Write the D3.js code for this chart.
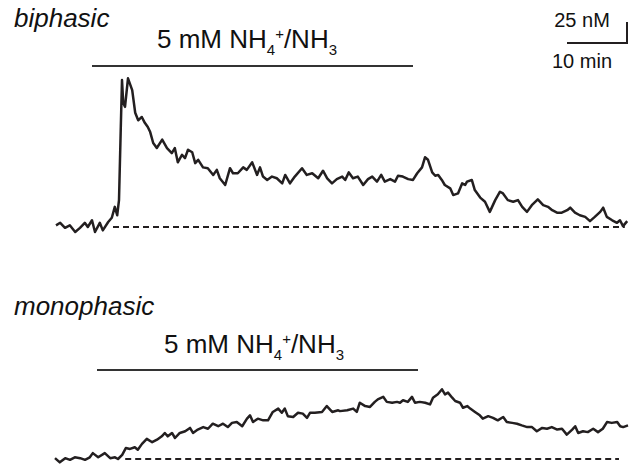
<!DOCTYPE html>
<html>
<head>
<meta charset="utf-8">
<script src="https://cdn.jsdelivr.net/npm/d3@7/dist/d3.min.js"></script>
<style>
  html, body { margin: 0; padding: 0; background: #fff; }
  svg { display: block; }
  text { font-family: "Liberation Sans", Arial, sans-serif; fill: #111; }
</style>
</head>
<body>
<svg id="chart" width="629" height="465"></svg>
<script>
// traces: time (min) and rise in [Ca2+] above baseline (nM)
var biphasicTime = [0, 0.7, 1.5, 2.3, 3.2, 4.0, 4.8, 5.3, 6.0, 6.5, 7.3, 7.8, 8.7, 9.3, 9.8, 10.2, 10.5, 10.8, 11.0, 11.2,
    11.5, 12.0, 12.7, 13.2, 13.7, 14.3, 14.8, 15.3, 15.7, 16.2, 16.8, 17.7, 18.5, 19.3, 19.8, 20.3, 21.0, 21.5, 22.0, 22.7,
    23.2, 23.7, 24.5, 25.3, 26.2, 26.8, 27.3, 28.2, 29.0, 29.5, 30.3, 31.2, 31.8, 32.7, 33.5, 34.0, 34.5, 35.2, 36.0, 36.8,
    37.7, 38.2, 39.0, 39.8, 41.0, 41.8, 42.7, 43.7, 44.5, 45.2, 46.0, 46.8, 47.7, 48.2, 48.8, 49.5, 50.3, 51.2, 52.0, 52.7,
    53.5, 54.2, 54.8, 55.7, 56.5, 57.0, 57.8, 58.7, 59.5, 60.2, 61.0, 61.5, 62.0, 62.7, 63.2, 63.7, 64.3, 64.8, 65.7, 66.2,
    67.0, 67.7, 68.2, 68.5, 69.3, 69.8, 70.7, 71.5, 72.3, 73.2, 74.0, 74.5, 75.3, 76.2, 77.0, 77.7, 78.5, 79.3, 80.3, 81.2,
    82.0, 82.7, 83.5, 84.3, 85.2, 85.7, 86.5, 87.3, 88.2, 89.0, 89.8, 90.7, 91.2, 91.8, 92.7, 93.5, 94.0, 94.5, 95.2];
var biphasicCa = [2, 5, -1, 2, -6, -1, 5, 0, 8, -6, 5, -4, 6, 11, 24, 14, 32, 119, 175, 148,
    143, 177, 163, 136, 127, 131, 124, 119, 113, 100, 94, 104, 94, 88, 94, 77, 86, 82, 92, 89,
    76, 80, 71, 70, 62, 68, 58, 50, 70, 64, 64, 71, 68, 77, 62, 71, 60, 56, 60, 58,
    52, 62, 52, 60, 70, 62, 64, 58, 67, 58, 52, 57, 60, 56, 65, 58, 60, 50, 57, 60,
    54, 62, 54, 57, 54, 61, 60, 57, 56, 64, 71, 83, 80, 65, 61, 62, 56, 50, 46, 38,
    40, 52, 50, 54, 56, 44, 35, 30, 18, 32, 42, 40, 32, 30, 32, 24, 18, 26, 33, 26,
    24, 20, 17, 17, 20, 23, 17, 14, 12, 7, 12, 18, 23, 12, 8, 5, 8, 1, 7];

var monophasicTime = [0, 0.8, 1.7, 2.5, 3.3, 4.2, 5.0, 5.8, 6.3, 7.2, 8.3, 9.2, 10.0, 10.5, 11.2, 11.8, 12.5, 13.3, 13.8, 14.5,
    15.3, 16.2, 17.0, 17.8, 18.3, 18.8, 19.5, 20.0, 20.8, 21.7, 22.5, 23.0, 23.8, 24.7, 25.5, 26.3, 27.2, 28.0, 28.8, 29.5,
    30.3, 31.2, 32.0, 32.5, 33.0, 33.8, 34.7, 35.5, 36.3, 37.2, 37.8, 38.3, 38.8, 39.7, 40.5, 41.3, 42.0, 42.5, 43.3, 44.5,
    45.3, 46.2, 47.2, 47.5, 48.7, 49.7, 50.3, 50.8, 51.7, 52.5, 53.3, 53.8, 54.7, 55.3, 56.2, 57.0, 57.5, 58.0, 58.8, 59.5,
    60.0, 60.8, 61.7, 62.5, 63.0, 63.8, 64.5, 65.0, 65.5, 66.2, 66.7, 67.5, 68.0, 68.7, 69.2, 70.0, 70.8, 71.3, 72.2, 73.0,
    73.8, 74.7, 75.3, 76.2, 77.0, 77.8, 78.7, 79.5, 80.3, 81.2, 82.0, 82.8, 83.7, 84.5, 85.3, 86.2, 86.7, 87.2, 88.0, 88.8,
    89.7, 90.5, 91.3, 92.0, 92.8, 93.7, 94.2, 94.7, 95.5];
var monophasicCa = [1, -4, 1, -1, 2, 1, -1, 2, 7, 2, 7, 1, 2, 0, 5, 13, 12, 14, 11, 18,
    24, 20, 23, 27, 31, 27, 31, 25, 31, 33, 37, 31, 35, 38, 36, 42, 39, 42, 38, 43,
    44, 39, 48, 52, 44, 48, 46, 46, 56, 60, 55, 60, 51, 50, 55, 54, 49, 55, 55, 56,
    63, 56, 58, 57, 58, 60, 56, 67, 63, 62, 68, 71, 74, 68, 67, 68, 67, 70, 68, 74,
    67, 68, 67, 65, 73, 77, 83, 77, 79, 73, 69, 67, 61, 63, 60, 56, 52, 48, 51, 49,
    46, 50, 44, 43, 42, 40, 38, 38, 33, 37, 36, 38, 35, 36, 29, 35, 39, 31, 33, 32,
    36, 32, 36, 44, 43, 44, 39, 38, 40];

// NH4+/NH3 application (min) and dashed baseline extent (min)
var biphasicDrug = [6, 59.5];
var monophasicDrug = [7, 60.5];
var biphasicBase = [9.5, 94.8];
var monophasicBase = [11.7, 94];

var scaleTime = 10;   // min
var scaleCa = 25;     // nM

var svg = d3.select("#chart");

var x = d3.scaleLinear().domain([0, 10]).range([0, 60]);
var y = d3.scaleLinear().domain([0, 25]).range([0, -21]);

var line = d3.line()
    .x(function (d) { return x(d[0]); })
    .y(function (d) { return y(d[1]); });

function drawLabel (g, xPos, yPos) {
    var t = g.append("text")
        .attr("x", xPos)
        .attr("y", yPos)
        .style("font-size", "26px");
    t.append("tspan").text("5 mM NH");
    t.append("tspan").attr("dy", 7).style("font-size", "15px").text("4");
    t.append("tspan").attr("dy", -16).style("font-size", "15px").text("+");
    t.append("tspan").attr("dy", 9).text("/NH");
    t.append("tspan").attr("dy", 7).style("font-size", "15px").text("3");
}

function drawPanel (opts) {
    var g = svg.append("g")
        .attr("transform", "translate(" + opts.x0 + "," + opts.y0 + ")");

    g.append("path")
        .datum(d3.zip(opts.time, opts.ca))
        .attr("fill", "none")
        .attr("stroke", "#231f20")
        .attr("stroke-width", 2.5)
        .attr("stroke-linejoin", "round")
        .attr("d", line);

    g.append("line")
        .attr("x1", x(opts.base[0]))
        .attr("x2", x(opts.base[1]))
        .attr("y1", y(0))
        .attr("y2", y(0))
        .attr("stroke", "#231f20")
        .attr("stroke-width", 2)
        .attr("stroke-dasharray", "6,4");

    g.append("line")
        .attr("x1", x(opts.drug[0]))
        .attr("x2", x(opts.drug[1]))
        .attr("y1", opts.barY - opts.y0)
        .attr("y2", opts.barY - opts.y0)
        .attr("stroke", "#333")
        .attr("stroke-width", 2);

    svg.append("text")
        .attr("x", 14)
        .attr("y", opts.nameY)
        .style("font-size", "26px")
        .style("font-style", "italic")
        .text(opts.name);

    drawLabel(svg, opts.labelX, opts.labelY);
}

drawPanel({
    name: "biphasic", nameY: 27,
    time: biphasicTime, ca: biphasicCa, drug: biphasicDrug, base: biphasicBase,
    x0: 56, y0: 227, barY: 66, labelX: 157, labelY: 48
});

drawPanel({
    name: "monophasic", nameY: 315,
    time: monophasicTime, ca: monophasicCa, drug: monophasicDrug, base: monophasicBase,
    x0: 55, y0: 459, barY: 370, labelX: 164, labelY: 353
});

// scale bar, corner at (627, 43)
var sb = svg.append("g").attr("transform", "translate(627,43)");
sb.append("path")
    .attr("fill", "none")
    .attr("stroke", "#231f20")
    .attr("stroke-width", 2)
    .attr("d", "M" + (-x(scaleTime)) + ",0H0V" + y(scaleCa));
sb.append("text")
    .attr("x", -45)
    .attr("y", -16)
    .attr("text-anchor", "middle")
    .style("font-size", "20px")
    .text(scaleCa + " nM");
sb.append("text")
    .attr("x", -45)
    .attr("y", 25)
    .attr("text-anchor", "middle")
    .style("font-size", "20px")
    .text(scaleTime + " min");
</script>
</body>
</html>
